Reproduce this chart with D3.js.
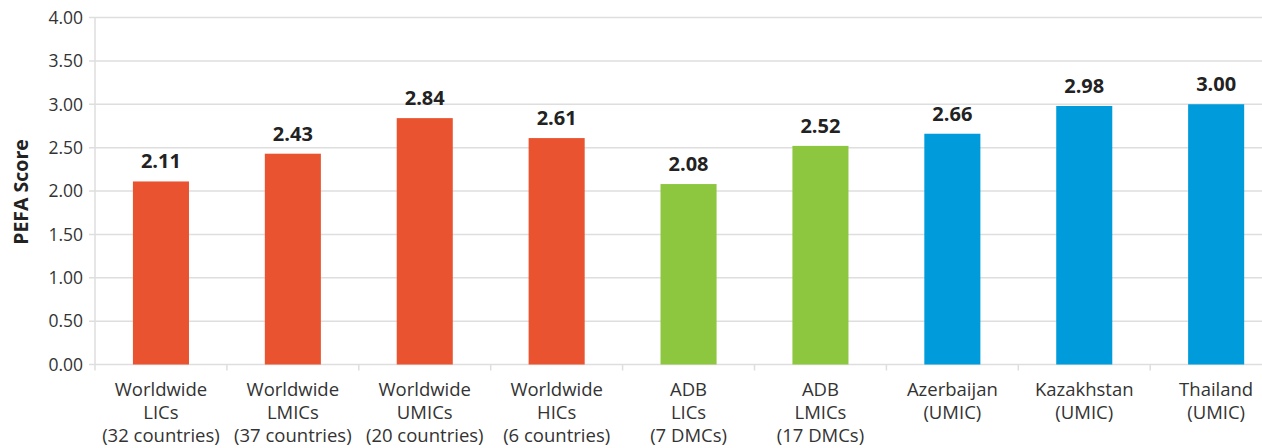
<!DOCTYPE html>
<html><head><meta charset="utf-8">
<script src="https://cdn.jsdelivr.net/npm/d3@7"></script>
<style>body{margin:0;background:#fff;} svg{display:block;}</style>
</head><body>
<svg id="c" width="1262" height="448"></svg>
<script>
const categories = [
  ["Worldwide","LICs","(32 countries)"],
  ["Worldwide","LMICs","(37 countries)"],
  ["Worldwide","UMICs","(20 countries)"],
  ["Worldwide","HICs","(6 countries)"],
  ["ADB","LICs","(7 DMCs)"],
  ["ADB","LMICs","(17 DMCs)"],
  ["Azerbaijan","(UMIC)"],
  ["Kazakhstan","(UMIC)"],
  ["Thailand","(UMIC)"]
];
const values = [2.11, 2.43, 2.84, 2.61, 2.08, 2.52, 2.66, 2.98, 3.00];
const groups = ["world","world","world","world","adb","adb","country","country","country"];
const yTicks = [0, 0.5, 1, 1.5, 2, 2.5, 3, 3.5, 4];
const yTitle = "PEFA Score";

const colors = {world:"#E9532F", adb:"#8DC63F", country:"#009BDB"};
const font = "'Open Sans', Lato, sans-serif";
const svg = d3.select("#c");
const x0 = 95, y0 = 364.5, y1 = 17.5, band = 131.9;
const x = d3.scaleBand().domain(d3.range(categories.length)).range([x0, x0 + band*categories.length]).paddingInner(0.575).paddingOuter(0.2875);
const y = d3.scaleLinear().domain([0,4]).range([y0, y1]);

// gridlines
svg.append("g").selectAll("line").data(yTicks).join("line")
  .attr("x1", 89).attr("x2", 1262).attr("y1", d=>y(d)).attr("y2", d=>y(d))
  .attr("stroke", "#dedede").attr("stroke-width", 1.5);
// y axis line
svg.append("line").attr("x1", x0).attr("x2", x0).attr("y1", y1).attr("y2", y0+6)
  .attr("stroke", "#dedede").attr("stroke-width", 1.5);
// x ticks
svg.append("g").selectAll("line").data(d3.range(1, categories.length+1)).join("line")
  .attr("x1", i=>x0+band*i).attr("x2", i=>x0+band*i).attr("y1", y0).attr("y2", y0+6)
  .attr("stroke", "#dedede").attr("stroke-width", 1.5);

// y tick labels
svg.append("g").selectAll("text").data(yTicks).join("text")
  .attr("x", 83).attr("y", d=>y(d)).attr("dy", "0.36em").attr("text-anchor","end")
  .attr("font-family", font).attr("font-size", 17.5).attr("fill", "#333")
  .text(d=>d3.format(".2f")(d));

// y title
svg.append("text").attr("transform", `translate(28,${(y0+y1)/2 + 1}) rotate(-90)`)
  .attr("text-anchor","middle").attr("font-family", font).attr("font-weight","bold")
  .attr("font-size", 19.5).attr("fill","#222").text(yTitle);

// bars
svg.append("g").selectAll("rect").data(values).join("rect")
  .attr("x", (d,i)=>x(i)).attr("width", x.bandwidth())
  .attr("y", d=>y(d)).attr("height", d=>y0 - y(d))
  .attr("fill", (d,i)=>colors[groups[i]]);

// value labels
svg.append("g").selectAll("text").data(values).join("text")
  .attr("x", (d,i)=>x(i)+x.bandwidth()/2).attr("y", d=>y(d)-13)
  .attr("text-anchor","middle").attr("font-family", font).attr("font-weight","bold")
  .attr("font-size", 20).attr("fill","#222").text(d=>d3.format(".2f")(d));

// category labels
const cl = svg.append("g").selectAll("text").data(categories).join("text")
  .attr("x", (d,i)=>x(i)+x.bandwidth()/2).attr("y", 396)
  .attr("text-anchor","middle").attr("font-family", font).attr("font-size", 18.5).attr("fill","#333");
cl.selectAll("tspan").data(d=>d).join("tspan")
  .attr("x", function(){return this.parentNode.getAttribute("x");})
  .attr("dy", (d,i)=>i===0?0:23).text(d=>d);
</script>
</body></html>
